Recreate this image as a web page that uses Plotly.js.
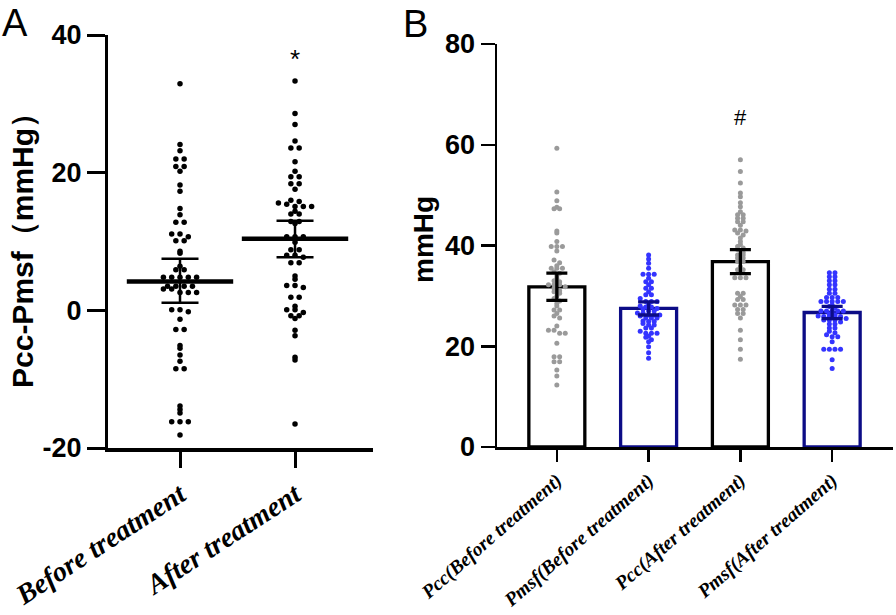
<!DOCTYPE html>
<html><head><meta charset="utf-8">
<script src="https://cdn.plot.ly/plotly-3.0.1.min.js"></script>
<style>html,body{margin:0;padding:0;background:#fff}#chart{width:896px;height:615px}</style>
</head><body><div id="chart"></div>
<script>
// ---------- data ----------
const groupsA = ['Before treatment', 'After treatment'];
const diffBefore = [32.9, 24.1, 23.2, 22.0, 22.0, 20.9, 20.9, 20.2, 18.2, 17.3, 14.8, 13.9, 12.8, 12.8, 11.1, 11.1, 10.7, 10.1, 10.1, 8.6, 8.3, 6.4, 5.9, 5.9, 4.8, 4.8, 4.8, 4.8, 4.8, 3.5, 3.5, 3.5, 3.5, 3.1, 3.1, 2.6, 2.6, 2.6, 0.1, 0.1, -0.2, -1.3, -2.8, -2.8, -5.1, -5.5, -6.5, -7.4, -8.5, -8.5, -13.9, -14.4, -14.9, -16.2, -16.2, -16.2, -18.1];
const diffAfter = [33.3, 28.6, 27.0, 24.6, 23.6, 23.6, 21.6, 20.2, 19.4, 19.4, 18.4, 18.4, 17.6, 16.0, 15.8, 15.6, 15.4, 15.1, 15.1, 15.1, 14.4, 14.0, 14.0, 12.9, 12.9, 12.6, 10.7, 10.7, 10.7, 9.9, 8.8, 8.8, 8.0, 8.0, 7.7, 6.9, 6.9, 5.0, 4.5, 3.6, 3.6, 3.3, 1.9, 1.9, 0.6, 0.1, 0.1, -0.3, -0.8, -0.8, -1.2, -2.9, -3.7, -6.8, -7.2, -16.5];
const meanA = [4.2, 10.4];
const errAUp = [3.3, 2.6];
const errADown = [3.1, 2.7];
const ticksA = [-20, 0, 20, 40];
const tickTextA = ['-20', '0', '20', '40'];

const groupsB = ['Pcc(Before treatment)', 'Pmsf(Before treatment)', 'Pcc(After treatment)', 'Pmsf(After treatment)'];
const pccBefore = [59.3, 50.6, 48.9, 47.6, 47.3, 47.3, 42.9, 42.5, 40.8, 39.8, 39.8, 39.8, 38.9, 37.1, 36.6, 36.0, 35.5, 35.5, 35.5, 34.8, 34.5, 34.0, 33.5, 33.0, 32.8, 32.2, 32.2, 32.2, 31.8, 31.5, 31.0, 30.8, 30.5, 30.0, 29.5, 29.0, 28.5, 28.0, 27.2, 27.2, 26.5, 26.0, 25.6, 24.0, 23.2, 23.2, 22.6, 22.6, 20.6, 17.9, 17.9, 16.9, 16.9, 15.3, 14.1, 12.3];
const pmsfBefore = [38.1, 37.3, 36.5, 35.5, 34.3, 34.3, 34.3, 33.5, 32.8, 32.8, 32.2, 31.5, 31.5, 30.8, 30.2, 30.2, 29.5, 28.9, 28.9, 28.9, 28.2, 28.0, 27.8, 27.8, 27.5, 27.4, 27.0, 27.0, 26.6, 26.6, 26.2, 26.2, 26.2, 26.0, 25.6, 25.6, 25.6, 25.0, 24.9, 24.9, 24.5, 24.2, 24.2, 23.6, 23.6, 23.0, 22.6, 22.6, 22.6, 22.0, 21.8, 21.3, 20.9, 19.9, 18.7, 17.6];
const pccAfter = [57.0, 54.7, 52.4, 50.4, 49.7, 48.5, 47.7, 46.7, 46.1, 46.1, 45.4, 45.4, 44.7, 44.7, 44.0, 43.1, 43.1, 42.9, 42.5, 42.1, 41.5, 40.8, 40.2, 39.8, 39.5, 39.2, 38.6, 38.1, 38.1, 37.5, 37.5, 36.8, 36.8, 35.8, 35.2, 35.2, 33.6, 33.6, 33.6, 30.5, 30.5, 29.9, 29.3, 29.3, 28.2, 28.2, 28.2, 27.3, 27.3, 26.5, 26.5, 25.6, 23.2, 21.3, 19.4, 17.4];
const pmsfAfter = [34.6, 34.6, 33.8, 33.8, 33.0, 33.0, 32.2, 32.2, 31.3, 31.3, 30.5, 30.5, 29.7, 29.7, 29.7, 28.9, 28.9, 28.9, 28.9, 28.9, 28.2, 27.9, 27.6, 27.0, 27.0, 27.0, 27.0, 27.0, 26.4, 26.2, 26.0, 25.9, 25.9, 25.9, 25.9, 25.5, 25.2, 25.2, 25.2, 24.8, 24.4, 24.4, 23.6, 23.6, 23.0, 22.7, 22.3, 21.9, 21.9, 20.9, 19.4, 19.4, 19.4, 19.4, 17.3, 15.6];
const meanB = [31.8, 27.5, 36.8, 26.7];
const errB = [2.7, 1.3, 2.4, 1.2];
const ticksB = [0, 20, 40, 60, 80];

// ---------- geometry (px) ----------
const W = 896, H = 615;
const A = {x0: 108, x1: 373, y0: 35, y1: 448, xr: [-0.626, 1.678], yr: [-20, 40]};
const B = {x0: 497, x1: 893, y0: 44, y1: 447, xr: [-0.652, 3.663], yr: [0, 80]};
const px = v => v / W, py = v => 1 - v / H;
function scale(P) {
  return {kx: (P.x1 - P.x0) / (P.xr[1] - P.xr[0]), ky: (P.y1 - P.y0) / (P.yr[1] - P.yr[0])};
}
// beeswarm-like row layout (computed from values)
function swarm(values, center, P, binPx, stepPx) {
  const s = scale(P);
  const rows = {};
  values.forEach((v, i) => {
    const k = Math.round(v * s.ky / binPx);
    (rows[k] = rows[k] || []).push(i);
  });
  const xs = new Array(values.length);
  Object.values(rows).forEach(r => {
    const n = r.length;
    r.forEach((i, j) => { xs[i] = center + (j - (n - 1) / 2) * stepPx / s.kx; });
  });
  return xs;
}

const SANS = 'Liberation Sans, Arial, sans-serif';
const SERIF = 'Liberation Serif, Times New Roman, serif';
const GRAY = '#9a9a9a', BLUE = '#3434ff', NAVY = '#0c0c86';

const traces = [];
// Panel A dots
[diffBefore, diffAfter].forEach((vals, g) => {
  traces.push({type: 'scatter', mode: 'markers', xaxis: 'x', yaxis: 'y',
    x: swarm(vals, g, A, 5, 8.3), y: vals,
    marker: {size: 5.5, color: '#000'}, hoverinfo: 'y'});
});
// Panel A mean + error
traces.push({type: 'scatter', mode: 'markers', xaxis: 'x', yaxis: 'y',
  x: groupsA.map((_, i) => i), y: meanA,
  marker: {symbol: 'line-ew', size: 76, color: '#000', line: {color: '#000', width: 4.5}},
  error_y: {type: 'data', symmetric: false, array: errAUp, arrayminus: errADown, color: '#000', thickness: 2.5, width: 18.5}});

// Panel B bars
const barColors = groupsB.map(g => g.startsWith('Pcc') ? '#000' : NAVY);
traces.push({type: 'bar', xaxis: 'x2', yaxis: 'y2',
  x: groupsB.map((_, i) => i), y: meanB, width: 0.61,
  marker: {color: '#fff', line: {color: barColors, width: 3.3}}});
// Panel B dots
[pccBefore, pmsfBefore, pccAfter, pmsfAfter].forEach((vals, g) => {
  traces.push({type: 'scatter', mode: 'markers', xaxis: 'x2', yaxis: 'y2',
    x: swarm(vals, g, B, 3.5, 5.6), y: vals,
    marker: {size: 5, color: groupsB[g].startsWith('Pcc') ? GRAY : BLUE}, hoverinfo: 'y'});
});
// Panel B error bars (on top of dots)
['Pcc', 'Pmsf'].forEach(kind => {
  const idx = groupsB.map((g, i) => g.startsWith(kind + '(') ? i : -1).filter(i => i >= 0);
  traces.push({type: 'scatter', mode: 'markers', xaxis: 'x2', yaxis: 'y2',
    x: idx, y: idx.map(i => meanB[i]),
    marker: {size: 1, opacity: 0},
    error_y: {type: 'data', array: idx.map(i => errB[i]), color: kind === 'Pcc' ? '#000' : NAVY, thickness: 3.3, width: 10.5}});
});

const tickFontY = {family: SANS, size: 27, color: '#000', weight: 'bold'};
const layout = {
  width: W, height: H, autosize: false, showlegend: false,
  margin: {l: 0, r: 0, t: 0, b: 0, pad: 0},
  paper_bgcolor: '#fff', plot_bgcolor: 'rgba(0,0,0,0)',
  xaxis: {domain: [px(A.x0), px(A.x1)], range: A.xr, tickmode: 'array', tickvals: groupsA.map((_, i) => i), ticktext: groupsA,
    showline: true, linecolor: '#000', linewidth: 3.5, ticks: 'outside', ticklen: 16, tickwidth: 3, tickcolor: '#000',
    tickangle: -33, tickfont: {family: SERIF, size: 28, color: '#000', weight: 'bold', style: 'italic'},
    showgrid: false, zeroline: false, anchor: 'y', fixedrange: true},
  yaxis: {domain: [py(A.y1), py(A.y0)], range: A.yr, tickmode: 'array', tickvals: ticksA, ticktext: tickTextA,
    showline: true, linecolor: '#000', linewidth: 3, ticks: 'outside', ticklen: 18, tickwidth: 3, tickcolor: '#000',
    tickfont: tickFontY, showgrid: false, zeroline: false, anchor: 'x', fixedrange: true},
  xaxis2: {domain: [px(B.x0), px(B.x1)], range: B.xr, tickmode: 'array', tickvals: groupsB.map((_, i) => i), ticktext: groupsB,
    showline: true, linecolor: '#000', linewidth: 2.5, ticks: 'outside', ticklen: 12, tickwidth: 2.5, tickcolor: '#000',
    tickangle: -41, tickfont: {family: SERIF, size: 19.5, color: '#000', weight: 'bold', style: 'italic'},
    showgrid: false, zeroline: false, anchor: 'y2', fixedrange: true},
  yaxis2: {domain: [py(B.y1), py(B.y0)], range: B.yr, tickmode: 'array', tickvals: ticksB,
    showline: true, linecolor: '#000', linewidth: 2.5, ticks: 'outside', ticklen: 14, tickwidth: 2.5, tickcolor: '#000',
    tickfont: tickFontY, showgrid: false, zeroline: false, anchor: 'x2', fixedrange: true},
  annotations: [
    {text: 'A', xref: 'paper', yref: 'paper', x: px(0), y: py(0), xanchor: 'left', yanchor: 'top', showarrow: false, font: {family: SANS, size: 38, color: '#000'}},
    {text: 'B', xref: 'paper', yref: 'paper', x: px(401), y: py(1), xanchor: 'left', yanchor: 'top', showarrow: false, font: {family: SANS, size: 38, color: '#000'}},
    {text: 'Pcc-Pmsf（mmHg）', xref: 'paper', yref: 'paper', x: px(22), y: py(243), xanchor: 'center', yanchor: 'middle', textangle: -90, showarrow: false, font: {family: SANS, size: 30, color: '#000', weight: 'bold'}},
    {text: 'mmHg', xref: 'paper', yref: 'paper', x: px(423), y: py(240), xanchor: 'center', yanchor: 'middle', textangle: -90, showarrow: false, font: {family: SANS, size: 28, color: '#000', weight: 'bold'}},
    {text: '*', xref: 'x', yref: 'y', x: 1, y: 36.5, xanchor: 'center', yanchor: 'middle', showarrow: false, font: {family: SANS, size: 26, color: '#000'}},
    {text: '#', xref: 'x2', yref: 'y2', x: 2, y: 65.5, xanchor: 'center', yanchor: 'middle', showarrow: false, font: {family: SANS, size: 22, color: '#000'}}
  ]
};
Plotly.newPlot('chart', traces, layout, {displayModeBar: false, staticPlot: true});
</script>
</body></html>
